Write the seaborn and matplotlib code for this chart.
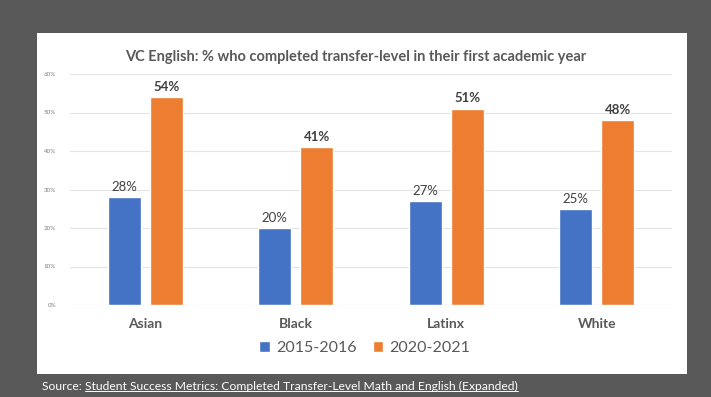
import matplotlib
matplotlib.use("Agg")
import matplotlib.pyplot as plt
import seaborn as sns
import pandas as pd
from matplotlib.patches import Rectangle
from matplotlib.lines import Line2D

categories = ["Asian", "Black", "Latinx", "White"]
years = ["2015-2016", "2020-2021"]
vals_2015 = [0.28, 0.20, 0.27, 0.25]
vals_2020 = [0.54, 0.41, 0.51, 0.48]
yticks = [0, 0.1, 0.2, 0.3, 0.4, 0.5, 0.6]
ytick_labels = ["0%", "10%", "20%", "30%", "40%", "50%", "60%"]
colors = ["#4472C4", "#ED7D31"]

df = pd.DataFrame({
    "group": categories * 2,
    "year": [years[0]] * 4 + [years[1]] * 4,
    "value": vals_2015 + vals_2020,
})

sns.set_theme(style="white")
plt.rcParams["font.family"] = ["Lato", "DejaVu Sans"]

W, H = 711, 397
fig = plt.figure(figsize=(W / 100, H / 100), dpi=100)
fig.patch.set_facecolor("#595959")
fig.patches.append(Rectangle((37 / W, 1 - 374 / H), (687 - 37) / W, (374 - 33) / H,
                             transform=fig.transFigure, facecolor="white", edgecolor="none", zorder=-5))

ax = fig.add_axes([70 / W, 1 - 305 / H, (672 - 70) / W, (305 - 74) / H])
ax.set_zorder(2)
ax.set_facecolor("none")
sns.barplot(data=df, x="group", y="value", hue="year", palette=colors, width=0.56, gap=0.21,
            ax=ax, legend=False, saturation=1)

ax.set_ylim(0, 0.6)
ax.set_yticks(yticks)
ax.set_yticklabels(ytick_labels, fontsize=4.5, color="#7f7f7f")
ax.tick_params(axis="y", length=0, pad=10)
ax.tick_params(axis="x", length=0, pad=9)
ax.yaxis.grid(True, color="#e3e3e3", linewidth=0.8)
ax.set_axisbelow(True)
for s in ax.spines.values():
    s.set_visible(False)
ax.axhline(0, color="#d9d9d9", linewidth=0.8, zorder=1)
ax.set_xlabel("")
ax.set_ylabel("")
for lbl in ax.get_xticklabels():
    lbl.set_fontweight("bold")
    lbl.set_fontsize(10)
    lbl.set_color("#595959")

for i, cont in enumerate(ax.containers):
    ax.bar_label(cont, labels=[f"{v*100:.0f}%" for v in cont.datavalues], padding=3,
                 fontsize=9.5, color="#404040", fontweight="bold" if i == 1 else "normal")

fig.text(0.5, 1 - 57 / H, "VC English: % who completed transfer-level in their first academic year",
         ha="center", va="center", fontsize=10.5, color="#595959", fontweight="bold")

handles = [Rectangle((0, 0), 1, 1, facecolor=c) for c in colors]
fig.legend(handles, years, loc="center", bbox_to_anchor=(365 / W, 1 - 348 / H), ncol=2,
           frameon=False, fontsize=11.5, handlelength=0.65, handleheight=0.65, handletextpad=0.4,
           columnspacing=1.0, labelcolor="#595959")

t1 = fig.text(42 / W, 1 - 386 / H, "Source: ", ha="left", va="center", fontsize=8.7, color="white")
fig.canvas.draw()
r = fig.canvas.get_renderer()
bb = t1.get_window_extent(r)
t2 = fig.text(bb.x1 / W, 1 - 386 / H,
              "Student Success Metrics: Completed Transfer-Level Math and English (Expanded)",
              ha="left", va="center", fontsize=8.7, color="white")
bb2 = t2.get_window_extent(r)
fig.lines.append(Line2D([bb2.x0 / W, bb2.x1 / W], [(bb2.y0 + 1) / H] * 2,
                        transform=fig.transFigure, color="white", linewidth=0.7))

fig.savefig("out.png", dpi=100, facecolor=fig.get_facecolor())
